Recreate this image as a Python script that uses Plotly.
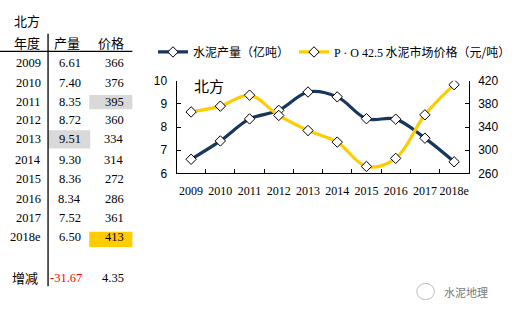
import plotly.graph_objects as go

W, H = 516, 321

years = ["2009", "2010", "2011", "2012", "2013", "2014", "2015", "2016", "2017", "2018e"]
output = [6.61, 7.40, 8.35, 8.72, 9.51, 9.30, 8.36, 8.34, 7.52, 6.50]
price = [366, 376, 395, 360, 334, 314, 272, 286, 361, 413]
change_output = "-31.67"
change_price = "4.35"
marked_years = ["2011", "2015"]

NAVY = "#17375E"
GOLD = "#FFCC00"
SERIF = "Liberation Serif, Times New Roman, serif"
SANS = "Liberation Sans, Arial, sans-serif"
CJK = "Noto Sans CJK SC, sans-serif"


def px(x):
    return x / W


def py(y):
    return 1 - y / H


fig = go.Figure()

marker = dict(symbol="diamond", size=8, color="white", line=dict(color="black", width=1))
fig.add_trace(go.Scatter(
    x=years, y=output, name="水泥产量（亿吨）",
    mode="lines+markers", line=dict(color=NAVY, width=3.2, shape="spline", smoothing=1),
    marker=marker, yaxis="y",
))
fig.add_trace(go.Scatter(
    x=years, y=price,
    name="<span style='font-family:Liberation Serif'>P · O 42.5</span> 水泥市场价格（元/吨）",
    mode="lines+markers", line=dict(color=GOLD, width=3.2, shape="spline", smoothing=1),
    marker=marker, yaxis="y2",
))

shapes = []
annotations = []

# red dashed markers on selected years
for yr in marked_years:
    shapes.append(dict(type="line", xref="x", yref="paper", x0=yr, x1=yr,
                       y0=py(174), y1=py(83), line=dict(color="#E00000", width=1.2, dash="dash")))

# ---- table on the left ----
row_y = [59, 79, 99, 118, 138, 160, 180, 201, 221, 241]
highlights = [
    (91, 135, 92, 107, "#D9D9D9"),   # 2011 price
    (49, 92, 129, 148, "#D9D9D9"),   # 2013 output
    (91, 135, 235, 251, GOLD),       # 2018e price
]
for x0, x1, y0, y1, c in highlights:
    shapes.append(dict(type="rect", xref="paper", yref="paper", x0=px(x0), x1=px(x1),
                       y0=py(y1), y1=py(y0), fillcolor=c, line=dict(width=0), layer="below"))

shapes.append(dict(type="line", xref="paper", yref="paper", x0=px(49), x1=px(49),
                   y0=py(292), y1=py(28), line=dict(color="black", width=1.3)))
shapes.append(dict(type="line", xref="paper", yref="paper", x0=px(0), x1=px(135),
                   y0=py(46.5), y1=py(46.5), line=dict(color="black", width=1.3)))


def txt(x, y, s, font, size, color="black", anchor="right"):
    annotations.append(dict(x=px(x), y=py(y), xref="paper", yref="paper", text=s,
                            showarrow=False, xanchor=anchor, yanchor="middle",
                            font=dict(family=font, size=size, color=color)))


txt(12, 14, "北方", CJK, 13, anchor="left")
txt(43, 37, "年度", CJK, 13)
txt(84, 37, "产量", CJK, 13)
txt(128, 37, "价格", CJK, 13)
for i, yr in enumerate(years):
    txt(44, row_y[i], yr, SERIF, 12.5)
    txt(85, row_y[i], f"{output[i]:.2f}", SERIF, 12.5)
    txt(128, row_y[i], f"{price[i]}", SERIF, 12.5)
txt(41, 283, "增减", CJK, 13)
txt(86, 283, change_output, SERIF, 12.5, color="#FF0000")
txt(128, 283, change_price, SERIF, 12.5)

# chart label
txt(196, 82, "北方", CJK, 15, anchor="left")

# watermark
shapes.append(dict(type="circle", xref="paper", yref="paper",
                   x0=px(425), x1=px(443), y0=py(306), y1=py(289),
                   line=dict(color="#BBBBBB", width=1)))
txt(451, 298, "水泥地理", CJK, 11, color="#777777", anchor="left")

fig.update_layout(
    width=W, height=H,
    margin=dict(l=0, r=0, t=0, b=0),
    paper_bgcolor="white", plot_bgcolor="white",
    showlegend=True,
    legend=dict(orientation="h", x=px(156), y=py(47), xanchor="left", yanchor="middle",
                font=dict(family=CJK, size=12, color="black"), itemwidth=30,
                bgcolor="rgba(0,0,0,0)", tracegroupgap=0),
    xaxis=dict(domain=[px(180), px(478)], type="category", range=[-0.5, 9.5],
               showline=True, linecolor="black", linewidth=1, mirror=False,
               ticks="inside", ticklen=4, tickcolor="black", tickson="boundaries",
               tickangle=0, ticklabelstandoff=6, showgrid=False,
               tickfont=dict(family=SERIF, size=12, color="black")),
    yaxis=dict(domain=[py(174), py(77)], range=[6, 10], dtick=1, tick0=6,
               showline=True, linecolor="black", linewidth=1, ticks="inside", ticklen=4,
               tickcolor="black", showgrid=False, zeroline=False, ticklabelstandoff=6,
               tickfont=dict(family=SANS, size=12, color="black")),
    yaxis2=dict(overlaying="y", side="right", range=[260, 420], dtick=40, tick0=260,
                showline=True, linecolor="black", linewidth=1, ticks="inside", ticklen=4,
                tickcolor="black", showgrid=False, zeroline=False, ticklabelstandoff=6,
                tickfont=dict(family=SANS, size=12, color="black")),
    shapes=shapes,
    annotations=annotations,
)

fig.write_html("out.html")
